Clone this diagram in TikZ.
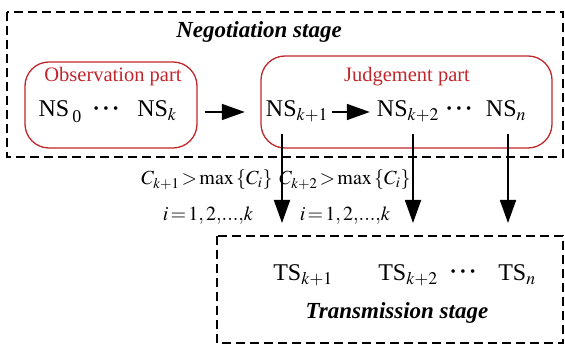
\documentclass[tikz,border=0pt]{standalone}
\usepackage{mathptmx}
\usepackage[no-math]{fontspec}
\setmainfont{Liberation Serif}
\usetikzlibrary{arrows.meta}

\definecolor{partred}{RGB}{192,39,45}

\tikzset{
  stagebox/.style={draw, line width=1.5pt, dash pattern=on 9pt off 5pt},
  partbox/.style={draw=partred, line width=1.3pt, rounded corners=24pt},
  arr/.style={line width=1.8pt, -{Triangle[length=23pt,width=16pt]}},
}

\begin{document}
\begin{tikzpicture}[x=1pt,y=-1pt,
  ns/.style={font=\fontsize{24}{28}\selectfont, inner sep=0pt, anchor=base},
  dots/.style={font=\fontsize{15}{15}\selectfont, inner sep=0pt},
  partlabel/.style={text=partred, font=\fontsize{20.5}{24}\selectfont, inner sep=0pt},
  stagelabel/.style={font=\fontsize{23}{27}\selectfont\bfseries\itshape, inner sep=0pt},
  cond/.style={font=\fontsize{20}{22}\selectfont, inner sep=0pt, anchor=base}]
\useasboundingbox (0,0) rectangle (565,344);

% stages
\draw[stagebox] (7,12) rectangle (563,157);
\draw[stagebox] (217,236) rectangle (563,343);
\node[stagelabel] (neg) at (259,32) {Negotiation stage};
\node[stagelabel] (trans) at (397,313) {Transmission stage};

% parts
\draw[partbox] (25,62) rectangle (197,148);
\draw[partbox] (261,56) rectangle (552,148);
\node[partlabel] (obs) at (113,77) {Observation part};
\node[partlabel] (judge) at (407,77) {Judgement part};

% NS nodes
\node[ns] (ns0) at (60,117) {NS\raisebox{-6pt}{\fontsize{18}{18}\selectfont\,0}};
\node[dots] (nsdots0) at (106,110) {\textbullet\hspace{4.5pt}\textbullet\hspace{4.5pt}\textbullet};
\node[ns] (nsk) at (157,117) {NS$_k$};
\node[ns] (ns1) at (297,117) {NS$_{k+1}$};
\node[ns] (ns2) at (408,117) {NS$_{k+2}$};
\node[dots] (nsdots1) at (459,110) {\textbullet\hspace{4.5pt}\textbullet\hspace{4.5pt}\textbullet};
\node[ns] (nsn) at (506,117) {NS$_n$};

% TS nodes
\node[ns] (ts1) at (303,281) {TS$_{k+1}$};
\node[ns] (ts2) at (408,281) {TS$_{k+2}$};
\node[dots] (tsdots) at (463,273) {\textbullet\hspace{4.5pt}\textbullet\hspace{4.5pt}\textbullet};
\node[ns] (tsn) at (517,281) {TS$_n$};

% conditions
\node[cond] (c1) at (207,185) {$C_{k+1}\mkern-2mu>\mkern-2mu\max\left\{C_i\right\}$};
\node[cond] (i1) at (208,221) {$i\mkern2mu{=}\mkern2mu1{,}\,2{,}{.}{.}{.}{,}k$};
\node[cond] (c2) at (345,185) {$C_{k+2}\mkern-2mu>\mkern-2mu\max\left\{C_i\right\}$};
\node[cond] (i2) at (345,221) {$i\mkern2mu{=}\mkern2mu1{,}\,2{,}{.}{.}{.}{,}k$};

% arrows
\draw[arr] ([shift={(28pt,5pt)}]nsk.base east) -- ([shift={(-21pt,5pt)}]ns1.base west);
\draw[arr] ([shift={(4pt,5pt)}]ns1.base east) -- ([shift={(-7pt,5pt)}]ns2.base west);
\foreach \x [count=\i] in {282,413,508}{
  \coordinate (top\i) at (\x,134);
  \coordinate (bot\i) at (\x,223);
  \draw[arr] (top\i) -- (bot\i);
}
\end{tikzpicture}
\end{document}
